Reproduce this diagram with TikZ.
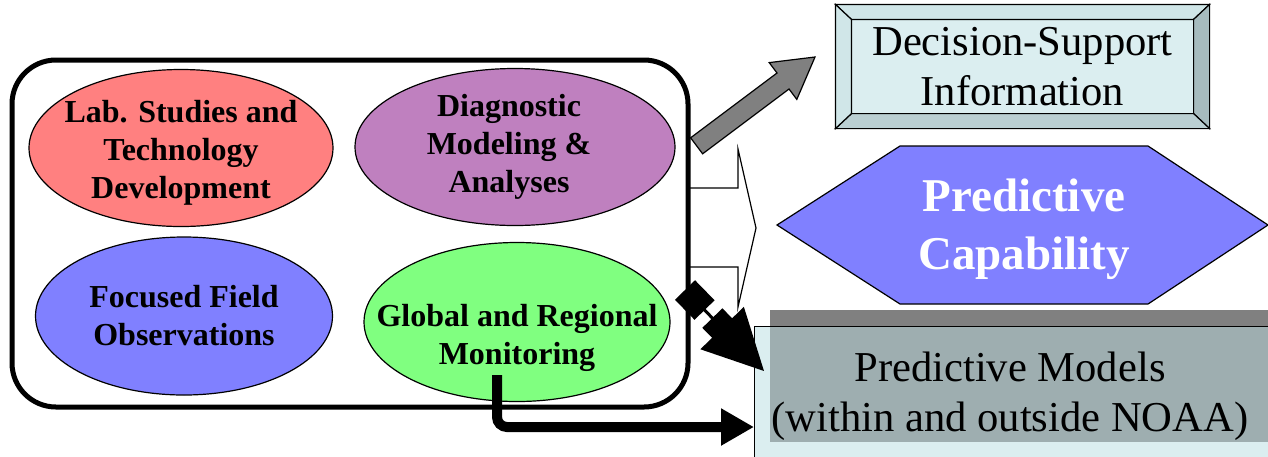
\documentclass[tikz,border=0pt]{standalone}
\usepackage{fontspec}
\setmainfont{Liberation Serif}
\usepackage{tikz}
\usetikzlibrary{arrows.meta, positioning, calc, shapes.geometric}

\definecolor{labred}{HTML}{FF8080}
\definecolor{diagpurple}{HTML}{BF80BF}
\definecolor{fieldblue}{HTML}{8080FF}
\definecolor{mongreen}{HTML}{80FF80}
\definecolor{dssface}{HTML}{DBEEF0}
\definecolor{dsslight}{HTML}{D0E6E8}
\definecolor{dssright}{HTML}{A6BBBE}
\definecolor{dssbottom}{HTML}{BACFD2}
\definecolor{pmshade}{HTML}{9EAEB0}
\definecolor{bandgray}{HTML}{808080}

\begin{document}
\begin{tikzpicture}[
  x=0.5pt, y=-0.5pt,
  blob/.style={draw, ellipse, inner sep=0pt, line width=0.6pt},
  blobtext/.style={font=\fontsize{16}{19}\selectfont\bfseries, align=center},
  bigtext/.style={font=\fontsize{21.3}{25}\selectfont, align=center},
  captext/.style={font=\fontsize{23.5}{29}\selectfont\bfseries, align=center, text=white},
  outline/.style={draw, line width=0.6pt}
]
\useasboundingbox (0,0) rectangle (1268,456);

% open arrow behind the frame
\draw[outline, fill=white] (688,188) -- (738,188) -- (738,149) -- (756,228)
  -- (738,307) -- (738,267) -- (688,267) -- cycle;

\node[draw, line width=2.5pt, rounded corners=22pt, minimum width=338pt,
  minimum height=173.5pt] (frame) at (350,233.5) {};

\node[blob, fill=labred, minimum width=152pt, minimum height=78.5pt,
  label={[blobtext, yshift=-2.5pt]center:Lab. Studies and\\Technology\\Development}] (lab) at (181,148) {};
\node[blob, fill=diagpurple, minimum width=160pt, minimum height=78.5pt,
  label={[blobtext, xshift=-3pt]center:Diagnostic\\Modeling \&\\Analyses}] (diag) at (515,147) {};
\node[blob, fill=fieldblue, minimum width=148.5pt, minimum height=79pt,
  label={[blobtext]center:Focused Field\\Observations}] (field) at (184,316) {};
\node[blob, fill=mongreen, minimum width=153pt, minimum height=79.5pt,
  label={[blobtext, yshift=-8pt]center:Global and Regional\\Monitoring}] (mon) at (517,322) {};

% decision-support box with bevel
\node[outline, fill=dssface, minimum width=186.5pt, minimum height=61.5pt, bigtext] (dss) at (1022.5,66.5) {Decision-Support\\Information};
\coordinate (i1) at ($(dss.north west)+(16,15)$);
\coordinate (i2) at ($(dss.north east)+(-16,15)$);
\coordinate (i3) at ($(dss.south east)+(-16,-15)$);
\coordinate (i4) at ($(dss.south west)+(16,-15)$);
\draw[outline, fill=dsslight] (dss.north west) -- (dss.north east) -- (i2) -- (i1) -- cycle;
\draw[outline, fill=dssright] (dss.north east) -- (dss.south east) -- (i3) -- (i2) -- cycle;
\draw[outline, fill=dssbottom] (dss.south east) -- (dss.south west) -- (i4) -- (i3) -- cycle;
\draw[outline, fill=dsslight] (dss.south west) -- (dss.north west) -- (i1) -- (i4) -- cycle;

% hexagon
\draw[outline, fill=fieldblue] (777,225) -- (900,146) -- (1148,146) -- (1268,225)
  -- (1148,304) -- (900,304) -- cycle;
\node[captext] (cap) at (1024,229) {Predictive\\Capability};

% predictive models box
\node[outline, fill=dssface, anchor=north west, minimum width=268pt,
  minimum height=77pt] (pmbox) at (754,326) {};
\fill[bandgray] (770,310) rectangle (1290,326);
\fill[pmshade] (770,327) rectangle (1290,442);
\node[bigtext] (pm) at (1010,396) {Predictive Models\\(within and outside NOAA)};

% gray block arrow
\draw[outline, fill=bandgray] (690.6,137.8) -- (777,73) -- (769.2,62.6) -- (815,57)
  -- (796.8,99.4) -- (789,89) -- (702.6,153.8) -- cycle;

% connectors
\coordinate (pmtip) at ($(pmbox.north west)+(10,45)$);
\draw[line width=1.5pt, {Square[length=14pt,width=14pt]}-{Triangle[length=30pt,width=30pt]}]
  (685,290) -- (pmtip) node[pos=0.47, sloped, fill=black, minimum size=14pt, inner sep=0pt] {};
\coordinate (monfoot) at ($(mon.south)+(-20,-27)$);
\draw[line width=5pt, rounded corners=5pt, -{Triangle[length=16.5pt,width=17.5pt]}]
  (monfoot) |- (pmbox.west |- 0,427);
\end{tikzpicture}
\end{document}
